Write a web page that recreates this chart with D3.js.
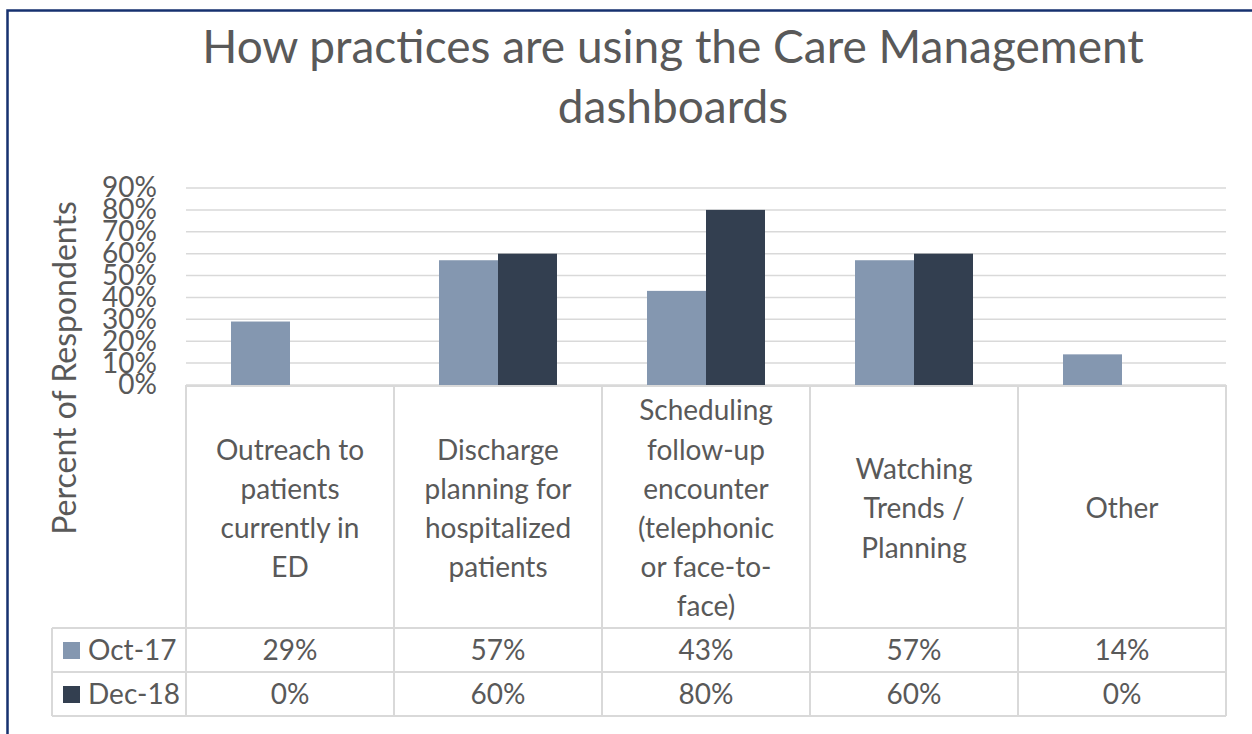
<!DOCTYPE html>
<html>
<head>
<meta charset="utf-8">
<script src="https://cdn.jsdelivr.net/npm/d3@7"></script>
<style>
  body { margin: 0; background: #fff; }
  text { font-family: Lato, "Open Sans", sans-serif; fill: #595959; }
</style>
</head>
<body>
<script>
// chart data
const categories = [
  ["Outreach to", "patients", "currently in", "ED"],
  ["Discharge", "planning for", "hospitalized", "patients"],
  ["Scheduling", "follow-up", "encounter", "(telephonic", "or face-to-", "face)"],
  ["Watching", "Trends /", "Planning"],
  ["Other"]
]
const seriesNames = ["Oct-17", "Dec-18"]
const oct17 = [0.29, 0.57, 0.43, 0.57, 0.14]
const dec18 = [0, 0.60, 0.80, 0.60, 0]
const tickValues = [0, 0.1, 0.2, 0.3, 0.4, 0.5, 0.6, 0.7, 0.8, 0.9]

const colors = ["#8497B0", "#333F50"]
const width = 1252, height = 734
const fs = '28px'

// plot area
const plotLeft = 186, plotRight = 1226, plotTop = 188, plotBase = 385
const headBottom = 628, rowH = 44, legendLeft = 52

const svg = d3.select('body').append('svg')
  .attr('width', width).attr('height', height)

// outer chart border
svg.append('rect')
  .attr('x', 7.5).attr('y', 10.5)
  .attr('width', 1300).attr('height', 800)
  .attr('fill', 'none').attr('stroke', '#16316F').attr('stroke-width', 2.5)

// title
const title = svg.append('text')
  .attr('text-anchor', 'middle')
  .style('font-size', '46px')
;["How practices are using the Care Management", "dashboards"].forEach((t, i) => {
  title.append('tspan').attr('x', 673).attr('y', 63 + i * 60).text(t)
})

// scales
const x = d3.scaleBand().domain(d3.range(categories.length)).range([plotLeft, plotRight])
const y = d3.scaleLinear().domain([0, 0.9]).range([plotBase, plotTop])
const barW = 59

// gridlines
svg.append('g')
  .selectAll('line').data(tickValues).enter().append('line')
  .attr('x1', plotLeft).attr('x2', plotRight)
  .attr('y1', d => y(d)).attr('y2', d => y(d))
  .attr('stroke', '#d9d9d9').attr('stroke-width', 1.5)

// y axis labels (they overlap in the original too)
const yAxis = d3.axisLeft(y).tickValues(tickValues).tickFormat(d3.format('.0%')).tickSize(0).tickPadding(29)
const yg = svg.append('g').attr('transform', 'translate(' + plotLeft + ',0)').call(yAxis)
yg.select('.domain').remove()
yg.selectAll('text').style('font-size', fs).attr('fill', '#595959')
  .style('font-family', 'Lato, "Open Sans", sans-serif')

// y title
svg.append('text')
  .attr('transform', 'translate(76,368) rotate(-90)')
  .attr('text-anchor', 'middle')
  .style('font-size', '32px')
  .text('Percent of Respondents')

// bars
const series = [oct17, dec18]
series.forEach((vals, s) => {
  svg.append('g').selectAll('rect').data(vals).enter().append('rect')
    .attr('x', (d, i) => x(i) + x.bandwidth() / 2 - barW + s * barW)
    .attr('width', barW)
    .attr('y', d => y(d))
    .attr('height', d => plotBase - y(d))
    .attr('fill', colors[s])
})

// data table lines
const grid = svg.append('g').attr('stroke', '#d9d9d9').attr('stroke-width', 2)
grid.append('line').attr('x1', plotLeft).attr('x2', plotRight).attr('y1', plotBase + 1).attr('y2', plotBase + 1)
d3.range(categories.length + 1).forEach(i => {
  const xx = i < categories.length ? x(i) : plotRight
  grid.append('line').attr('x1', xx).attr('x2', xx).attr('y1', plotBase).attr('y2', headBottom + 2 * rowH)
})
d3.range(3).forEach(r => {
  grid.append('line').attr('x1', legendLeft).attr('x2', plotRight)
    .attr('y1', headBottom + r * rowH).attr('y2', headBottom + r * rowH)
})
grid.append('line').attr('x1', legendLeft).attr('x2', legendLeft)
  .attr('y1', headBottom).attr('y2', headBottom + 2 * rowH)

// category labels
categories.forEach((lines, i) => {
  const cx = x(i) + x.bandwidth() / 2
  const lh = 39.2
  const mid = (plotBase + headBottom) / 2 + 2
  const t = svg.append('text').attr('text-anchor', 'middle').style('font-size', fs)
  lines.forEach((l, j) => {
    t.append('tspan').attr('x', cx)
      .attr('y', mid - (lines.length - 1) * lh / 2 + j * lh)
      .attr('dy', '0.35em').text(l)
  })
})

// table rows
const fmt = d3.format('.0%')
series.forEach((vals, s) => {
  const cy = headBottom + s * rowH + rowH / 2
  svg.append('rect').attr('x', 63).attr('y', cy - 8).attr('width', 17).attr('height', 17).attr('fill', colors[s])
  svg.append('text').attr('x', 88).attr('y', cy).attr('dy', '0.35em')
    .style('font-size', fs).text(seriesNames[s])
  svg.append('g').selectAll('text').data(vals).enter().append('text')
    .attr('x', (d, i) => x(i) + x.bandwidth() / 2)
    .attr('y', cy).attr('dy', '0.35em')
    .attr('text-anchor', 'middle').style('font-size', fs)
    .text(d => fmt(d))
})
</script>
</body>
</html>
